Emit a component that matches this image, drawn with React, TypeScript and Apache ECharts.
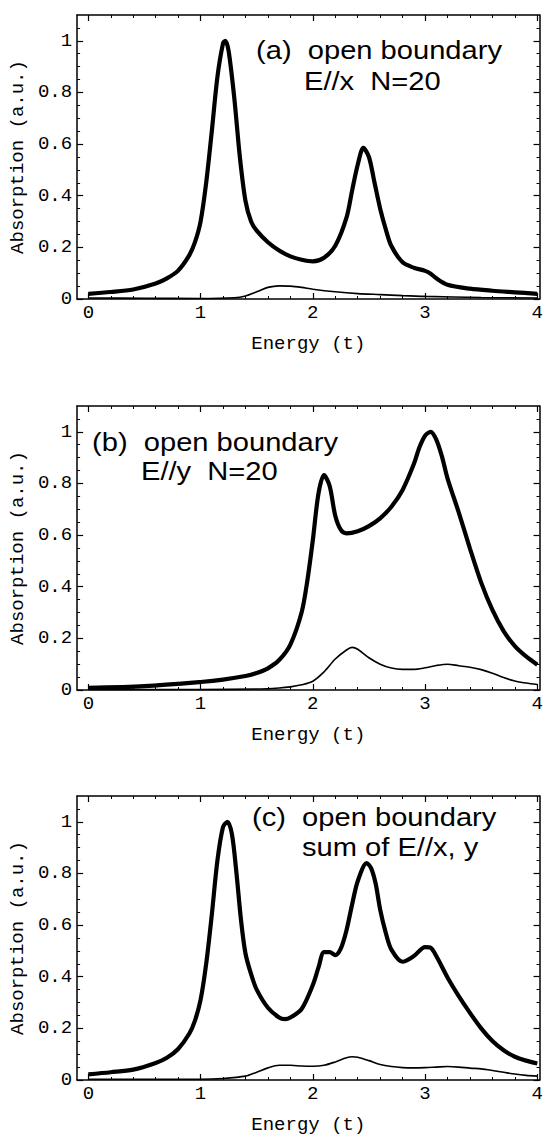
import React, { useEffect, useRef } from "react";
import * as echarts from "echarts";

// ---- tick labels ----
const xTicks = [0, 1, 2, 3, 4];
const yTicks = [0, 0.2, 0.4, 0.6, 0.8, 1];

// ---- panel (a): E//x, N=20 ----
const energyA = [0, 0.2, 0.4, 0.6, 0.7, 0.8, 0.9, 0.95, 1.0, 1.05, 1.1, 1.15, 1.2, 1.22, 1.25, 1.3, 1.35, 1.4, 1.45, 1.5, 1.6, 1.7, 1.8, 1.9, 2.0, 2.1, 2.2, 2.3, 2.35, 2.4, 2.45, 2.5, 2.55, 2.6, 2.65, 2.7, 2.8, 2.9, 3.0, 3.05, 3.1, 3.2, 3.4, 3.6, 3.8, 4.0];
const thickA = [0.02, 0.027, 0.037, 0.06, 0.08, 0.11, 0.17, 0.22, 0.3, 0.45, 0.65, 0.86, 0.99, 1.0, 0.96, 0.78, 0.55, 0.38, 0.3, 0.265, 0.22, 0.188, 0.165, 0.152, 0.146, 0.16, 0.206, 0.315, 0.42, 0.52, 0.585, 0.55, 0.45, 0.35, 0.27, 0.205, 0.142, 0.121, 0.109, 0.098, 0.08, 0.055, 0.04, 0.032, 0.026, 0.02];
const energyAThin = [0, 0.5, 1.0, 1.3, 1.4, 1.5, 1.6, 1.7, 1.8, 1.9, 2.0, 2.2, 2.4, 2.6, 2.8, 3.0, 3.5, 4.0];
const thinA = [0.004, 0.003, 0.002, 0.005, 0.012, 0.028, 0.045, 0.051, 0.05, 0.045, 0.038, 0.028, 0.021, 0.017, 0.013, 0.01, 0.006, 0.004];

// ---- panel (b): E//y, N=20 ----
const energyB = [0, 0.5, 1.0, 1.2, 1.4, 1.5, 1.6, 1.7, 1.8, 1.9, 1.95, 2.0, 2.05, 2.1, 2.15, 2.2, 2.25, 2.3, 2.4, 2.5, 2.6, 2.7, 2.8, 2.9, 2.95, 3.0, 3.05, 3.1, 3.15, 3.2, 3.3, 3.4, 3.5, 3.6, 3.7, 3.8, 3.9, 4.0];
const thickB = [0.008, 0.015, 0.031, 0.04, 0.054, 0.066, 0.084, 0.116, 0.176, 0.3, 0.42, 0.58, 0.76, 0.832, 0.79, 0.675, 0.62, 0.607, 0.615, 0.635, 0.665, 0.71, 0.775, 0.875, 0.94, 0.985, 1.0, 0.97, 0.905, 0.82, 0.688, 0.548, 0.416, 0.31, 0.228, 0.17, 0.13, 0.098];
const energyBThin = [0, 1.0, 1.5, 1.7, 1.8, 1.9, 2.0, 2.1, 2.2, 2.3, 2.35, 2.4, 2.5, 2.6, 2.7, 2.8, 2.9, 3.0, 3.1, 3.2, 3.3, 3.4, 3.5, 3.6, 3.7, 3.8, 3.9, 4.0];
const thinB = [0.002, 0.002, 0.004, 0.008, 0.012, 0.02, 0.034, 0.07, 0.12, 0.155, 0.165, 0.158, 0.125, 0.1, 0.085, 0.08, 0.08, 0.086, 0.095, 0.1, 0.094, 0.088, 0.079, 0.065, 0.048, 0.035, 0.027, 0.021];

// ---- panel (c): sum of E//x, y ----
const energyC = [0, 0.2, 0.4, 0.6, 0.7, 0.8, 0.9, 0.95, 1.0, 1.05, 1.1, 1.15, 1.2, 1.24, 1.28, 1.32, 1.36, 1.4, 1.45, 1.5, 1.6, 1.7, 1.75, 1.8, 1.9, 2.0, 2.05, 2.1, 2.15, 2.2, 2.25, 2.3, 2.35, 2.4, 2.48, 2.52, 2.56, 2.6, 2.65, 2.7, 2.8, 2.9, 3.0, 3.05, 3.1, 3.2, 3.3, 3.4, 3.5, 3.6, 3.7, 3.8, 3.9, 4.0];
const thickC = [0.022, 0.03, 0.04, 0.066, 0.086, 0.12, 0.18, 0.23, 0.31, 0.45, 0.64, 0.85, 0.98, 1.0, 0.95, 0.8, 0.62, 0.49, 0.41, 0.35, 0.28, 0.242, 0.236, 0.242, 0.275, 0.368, 0.435, 0.495, 0.495, 0.484, 0.51, 0.58, 0.68, 0.77, 0.84, 0.82, 0.76, 0.66, 0.57, 0.505, 0.458, 0.48, 0.515, 0.512, 0.48, 0.397, 0.325, 0.26, 0.2, 0.151, 0.115, 0.09, 0.075, 0.064];
const energyCThin = [0, 1.0, 1.2, 1.4, 1.5, 1.6, 1.7, 1.8, 1.9, 2.0, 2.1, 2.2, 2.3, 2.35, 2.4, 2.5, 2.6, 2.7, 2.8, 2.9, 3.0, 3.1, 3.2, 3.3, 3.4, 3.5, 3.6, 3.7, 3.8, 3.9, 4.0];
const thinC = [0.003, 0.003, 0.006, 0.015, 0.03, 0.047, 0.057, 0.057, 0.054, 0.053, 0.057, 0.07, 0.086, 0.09, 0.088, 0.075, 0.06, 0.052, 0.048, 0.047, 0.048, 0.05, 0.052, 0.05, 0.046, 0.043, 0.037, 0.03, 0.023, 0.018, 0.015];

const pair = (xs: number[], ys: number[]) => xs.map((x, i) => [x, ys[i]]);

const MONO = "'Liberation Mono', 'DejaVu Sans Mono', monospace";
const SANS = "'Liberation Sans', Arial, sans-serif";
const INK = "#000";

const grids = [
  { left: 75, top: 15, width: 468, height: 284 },
  { left: 76, top: 406, width: 469, height: 284 },
  { left: 73, top: 796, width: 470, height: 286 },
];

const panels = [
  { thick: pair(energyA, thickA), thin: pair(energyAThin, thinA), nameGapY: 45 },
  { thick: pair(energyB, thickB), thin: pair(energyBThin, thinB), nameGapY: 45 },
  { thick: pair(energyC, thickC), thin: pair(energyCThin, thinC), nameGapY: 45 },
];

function buildOption() {
  const xAxis: any[] = [];
  const yAxis: any[] = [];
  const series: any[] = [];
  const axisLine = { show: true, onZero: false, lineStyle: { color: INK, width: 1.5 } };
  const tick = { show: true, inside: true, length: 6, lineStyle: { color: INK, width: 1.2 } };
  const minor = { show: true, length: 3, lineStyle: { color: INK, width: 1 } };

  grids.forEach((g, i) => {
    xAxis.push({
      type: "value", gridIndex: i, position: "bottom", min: -0.1, max: 4.02,
      axisLine, axisTick: { ...tick, customValues: xTicks }, minorTick: { ...minor, splitNumber: 5 },
      splitLine: { show: false },
      axisLabel: { customValues: xTicks, margin: 4, fontFamily: MONO, fontSize: 19, color: INK },
      name: "Energy (t)", nameLocation: "middle", nameGap: 35,
      nameTextStyle: { fontFamily: MONO, fontSize: 19, color: INK },
    });
    xAxis.push({
      type: "value", gridIndex: i, position: "top", min: -0.1, max: 4.02,
      axisLine, axisTick: { ...tick, customValues: xTicks }, minorTick: { ...minor, splitNumber: 5 },
      splitLine: { show: false }, axisLabel: { show: false },
    });
    yAxis.push({
      type: "value", gridIndex: i, position: "left", min: 0, max: 1.1, interval: 0.2,
      axisLine, axisTick: { ...tick, customValues: yTicks }, minorTick: { ...minor, splitNumber: 4 },
      splitLine: { show: false },
      axisLabel: { customValues: yTicks, margin: 5, fontFamily: MONO, fontSize: 19, color: INK },
      name: "Absorption (a.u.)", nameLocation: "middle", nameGap: panels[i].nameGapY,
      nameTextStyle: { fontFamily: MONO, fontSize: 19, color: INK },
    });
    yAxis.push({
      type: "value", gridIndex: i, position: "right", min: 0, max: 1.1, interval: 0.2,
      axisLine, axisTick: { ...tick, customValues: yTicks }, minorTick: { ...minor, splitNumber: 4 },
      splitLine: { show: false }, axisLabel: { show: false },
    });
    series.push({
      type: "line", xAxisIndex: 2 * i, yAxisIndex: 2 * i, data: panels[i].thick,
      symbol: "none", smooth: 0.3, lineStyle: { color: INK, width: 4.2 }, z: 3, silent: true,
    });
    series.push({
      type: "line", xAxisIndex: 2 * i, yAxisIndex: 2 * i, data: panels[i].thin,
      symbol: "none", smooth: 0.3, lineStyle: { color: INK, width: 1.6 }, z: 2, silent: true,
    });
  });

  const fs = 26;
  const txt = (text: string, x: number, baseline: number) => ({
    type: "text", x, y: baseline - fs * 0.33, scaleX: 1.12, silent: true,
    style: { text, font: `${fs}px ${SANS}`, fill: INK, verticalAlign: "middle", align: "left" },
  });

  return {
    animation: false,
    backgroundColor: "#fff",
    grid: grids.map((g) => ({ ...g, containLabel: false })),
    xAxis, yAxis, series,
    graphic: [
      txt("(a)  open boundary", 256, 59),
      txt("E//x  N=20", 304, 90),
      txt("(b)  open boundary", 92, 451),
      txt("E//y  N=20", 141, 480),
      txt("(c)  open boundary", 252, 826),
      txt("sum of E//x, y", 302, 856),
    ],
  };
}

export default function App() {
  const ref = useRef<HTMLDivElement>(null);
  useEffect(() => {
    if (!ref.current) return;
    const chart = echarts.init(ref.current, undefined, { renderer: "svg" });
    chart.setOption(buildOption() as any);
    return () => chart.dispose();
  }, []);
  return (
    <div
      ref={ref}
      style={{ position: "absolute", left: 0, top: 0, width: 546, height: 1135, background: "#fff" }}
    />
  );
}
